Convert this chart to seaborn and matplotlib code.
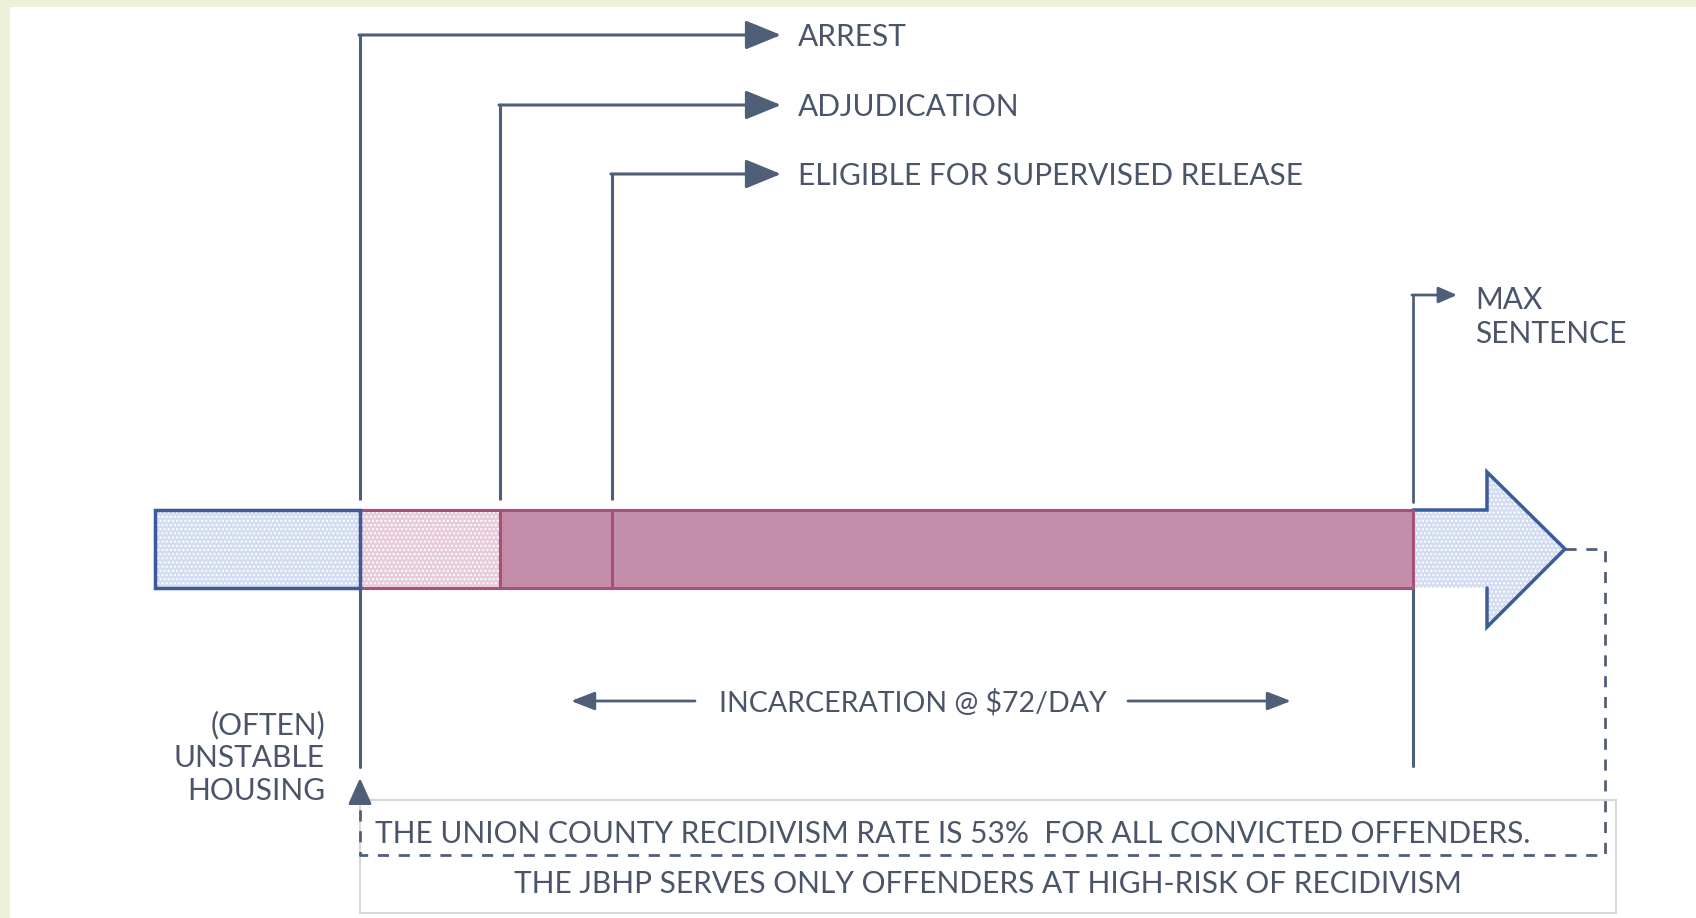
import matplotlib
matplotlib.use("Agg")
import matplotlib.pyplot as plt
from matplotlib.patches import Rectangle, Polygon
import seaborn as sns

# timeline data (x position along the diagram, in pixels)
segment_names = ["housing", "arrest", "adjudication", "supervised"]
segment_start = [155, 360, 500, 612]
segment_end = [360, 500, 612, 1413]
segment_fill = ["#D3DCF1", "#E7CBD9", "#C48EAB", "#C48EAB"]
segment_edge = ["#3B5B9B", "#A6507A", "#A6507A", "#A6507A"]
segment_hatch = ["....", "....", None, None]

milestones = ["ARREST", "ADJUDICATION", "ELIGIBLE FOR SUPERVISED RELEASE"]
milestone_x = [360, 500, 612]
milestone_y = [35, 105, 174]

max_label = "MAX\nSENTENCE"
max_x = 1413
max_y = 295

housing_label = "(OFTEN)\nUNSTABLE\nHOUSING"
cost_label = "INCARCERATION @ $72/DAY"
note_1 = "THE UNION COUNTY RECIDIVISM RATE IS 53%  FOR ALL CONVICTED OFFENDERS."
note_2 = "THE JBHP SERVES ONLY OFFENDERS AT HIGH-RISK OF RECIDIVISM"

line_col = "#505F78"
text_col = "#4A5569"

sns.set_theme(style="white")
plt.rcParams["font.family"] = ["Lato", "DejaVu Sans"]

fig = plt.figure(figsize=(16.96, 9.18), dpi=100, facecolor="#EEF0DA")
ax = fig.add_axes([0, 0, 1, 1])
ax.set_xlim(0, 1696)
ax.set_ylim(918, 0)
ax.axis("off")
ax.add_patch(Rectangle((10, 7), 1686, 911, facecolor="white", edgecolor="none", zorder=0))

bar_top, bar_bot = 510, 588

# bar segments
for i in range(len(segment_names)):
    w = segment_end[i] - segment_start[i]
    ax.add_patch(Rectangle((segment_start[i], bar_top), w, bar_bot - bar_top,
                           facecolor=segment_fill[i], edgecolor=segment_edge[i],
                           lw=2.2, zorder=3))
    if segment_hatch[i]:
        ax.add_patch(Rectangle((segment_start[i], bar_top), w, bar_bot - bar_top,
                               fill=False, hatch=segment_hatch[i], edgecolor="white",
                               lw=0, zorder=3.5))
# re-draw outlines on top of the hatch
ax.add_patch(Rectangle((segment_start[1], bar_top), segment_end[1] - segment_start[1],
                       bar_bot - bar_top, fill=False, edgecolor=segment_edge[1], lw=2.2, zorder=4))
ax.add_patch(Rectangle((segment_start[0], bar_top), segment_end[0] - segment_start[0],
                       bar_bot - bar_top, fill=False, edgecolor=segment_edge[0], lw=2.5, zorder=4))

# big arrow after max sentence
head_x, tip_x = 1487, 1565
arrow_pts = [(max_x, bar_top), (head_x, bar_top), (head_x, 472), (tip_x, 549),
             (head_x, 627), (head_x, bar_bot), (max_x, bar_bot)]
ax.add_patch(Polygon(arrow_pts, closed=True, facecolor="#D3DCF1", edgecolor="none", zorder=3))
ax.add_patch(Polygon(arrow_pts, closed=True, fill=False, hatch="....", edgecolor="white", lw=0, zorder=3.5))
ax.plot([p[0] for p in arrow_pts[:-1]], [p[1] for p in arrow_pts[:-1]],
        color="#3B5B9B", lw=2.5, zorder=4, solid_joinstyle="miter")
ax.plot([max_x, max_x], [bar_top, bar_bot], color="#A6507A", lw=2.2, zorder=4)

# milestone brackets
head_end = 781
for name, x, y in zip(milestones, milestone_x, milestone_y):
    ax.plot([x, x], [500, y], color=line_col, lw=2.2, zorder=2, solid_capstyle="butt")
    ax.annotate("", xy=(head_end, y), xytext=(x - 1, y),
                arrowprops=dict(arrowstyle="-|>,head_length=1.1,head_width=0.45",
                                color=line_col, lw=2.2, mutation_scale=20, shrinkA=0, shrinkB=0))
    ax.text(798, y + 2, name, color=text_col, fontsize=21.5, va="center", ha="left")

# max sentence bracket
ax.plot([max_x, max_x], [502, max_y], color=line_col, lw=2.0, zorder=2)
ax.annotate("", xy=(1457, max_y), xytext=(max_x - 1, max_y),
            arrowprops=dict(arrowstyle="-|>,head_length=0.8,head_width=0.35",
                            color=line_col, lw=2.0, mutation_scale=14, shrinkA=0, shrinkB=0))
ax.text(1475, max_y + 22, max_label, color=text_col, fontsize=21.5, va="center", ha="left",
        linespacing=1.25)

# lines below the bar
ax.plot([360, 360], [bar_bot, 767], color=line_col, lw=2.2, zorder=2)
ax.plot([max_x, max_x], [bar_bot, 766], color=line_col, lw=2.2, zorder=2)

# housing label and up arrow
ax.text(325, 758, housing_label, color=text_col, fontsize=21.5, ha="right", va="center",
        linespacing=1.22)
ax.annotate("", xy=(360, 778), xytext=(360, 798),
            arrowprops=dict(arrowstyle="-|>,head_length=1.0,head_width=0.45",
                            color=line_col, lw=2.0, mutation_scale=16, shrinkA=0, shrinkB=0))

# incarceration cost arrows
cost_y = 701
ax.annotate("", xy=(571, cost_y), xytext=(695, cost_y),
            arrowprops=dict(arrowstyle="-|>,head_length=0.9,head_width=0.35",
                            color=line_col, lw=2.0, mutation_scale=16, shrinkA=0, shrinkB=0))
ax.annotate("", xy=(1291, cost_y), xytext=(1128, cost_y),
            arrowprops=dict(arrowstyle="-|>,head_length=0.9,head_width=0.35",
                            color=line_col, lw=2.0, mutation_scale=16, shrinkA=0, shrinkB=0))
ax.text(913, cost_y + 2, cost_label, color=text_col, fontsize=20.5, ha="center", va="center")

# note boxes
ax.add_patch(Rectangle((360, 800), 1256, 113, fill=False, edgecolor="#D5D7DA", lw=1.5, zorder=1))
ax.plot([tip_x, 1605, 1605, 360, 360], [549, 549, 855, 855, 800],
        color=line_col, lw=2.0, ls=(0, (4, 3.5)), zorder=2)
ax.text(375, 834, note_1, color=text_col, fontsize=21.5, ha="left", va="center")
ax.text(988, 884, note_2, color=text_col, fontsize=21.5, ha="center", va="center")

fig.savefig("out.png", dpi=100, facecolor=fig.get_facecolor())
